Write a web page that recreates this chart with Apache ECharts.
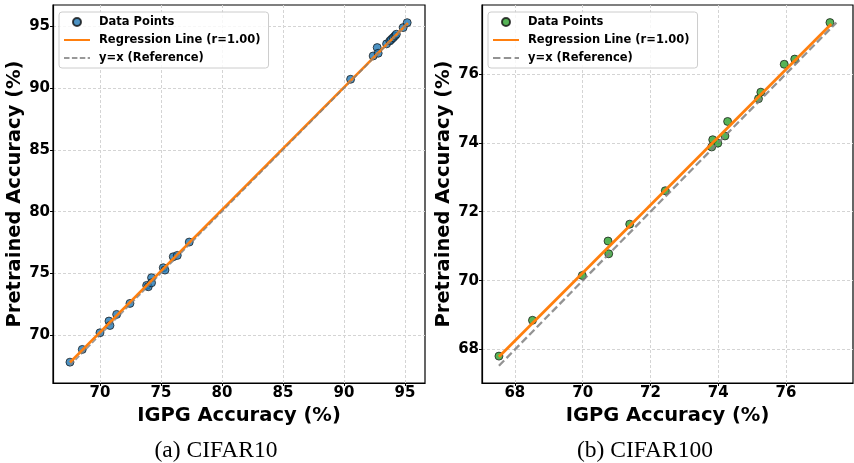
<!DOCTYPE html>
<html><head><meta charset="utf-8">
<script src="https://cdn.jsdelivr.net/npm/echarts@6/dist/echarts.min.js"></script>
<style>html,body{margin:0;padding:0;background:#fff}#c{width:854px;height:463px}</style>
</head><body><div id="c"></div>
<script>
// CIFAR10 (a)
const c10X = [67.54,68.55,70.00,70.74,70.82,71.37,72.46,73.83,73.96,74.23,74.23,75.19,75.33,76.01,76.34,77.32,90.55,92.40,92.73,92.81,93.50,93.77,93.90,94.04,94.18,94.30,94.86,95.19];
const c10Y = [67.81,68.84,70.19,71.14,70.78,71.68,72.57,74.03,73.92,74.65,74.24,75.46,75.27,76.35,76.46,77.54,90.73,92.62,93.30,92.84,93.60,93.84,93.97,94.10,94.24,94.38,94.92,95.32];
const c10RegX = [67.54, 95.25];
const c10RegY = [67.78, 95.28];
const c10RefX = [67.54, 95.3];
const c10Ticks = [70,75,80,85,90,95];
// CIFAR100 (b)
const c100X = [67.53,68.52,69.99,70.75,70.77,71.39,72.44,73.84,73.81,73.99,74.20,74.28,75.19,75.26,75.95,76.26,77.30];
const c100Y = [67.81,68.85,70.15,71.15,70.78,71.64,72.61,74.09,73.88,73.99,74.20,74.62,75.28,75.47,76.28,76.43,77.49];
const c100RegX = [67.53, 77.34];
const c100RegY = [67.79, 77.45];
const c100RefX = [67.53, 77.49];
const c100Ticks = [68,70,72,74,76];

const legendNames = {ptsA:'Data Points',regA:'Regression Line (r=1.00)',refA:'y=x (Reference)',ptsB:'Data Points',regB:'Regression Line (r=1.00)',refB:'y=x (Reference)'};
const zip = (a,b)=>a.map((v,i)=>[v,b[i]]);
const font = 'DejaVu Sans';

function xAxis(idx, min, max, ticks){
  return {gridIndex: idx, type:'value', min, max, name:'IGPG Accuracy (%)', nameLocation:'middle', nameGap:19,
    nameTextStyle:{fontFamily:font,fontWeight:'bold',fontSize:19.5,color:'#000'},
    axisLine:{show:true,onZero:false,lineStyle:{color:'#000',width:1.2}},
    axisTick:{show:true,inside:false,length:3,customValues:ticks,lineStyle:{color:'#000'}},
    axisLabel:{customValues:ticks,margin:3,fontFamily:font,fontWeight:'bold',fontSize:15,color:'#000'},
    splitLine:{show:true,lineStyle:{color:'#d4d4d4',type:[3,2],width:1}}};
}
function yAxis(idx, min, max, ticks){
  return {gridIndex: idx, type:'value', min, max, name:'Pretrained Accuracy (%)', nameLocation:'middle', nameGap:21, nameRotate:90,
    nameTextStyle:{fontFamily:font,fontWeight:'bold',fontSize:19.5,color:'#000'},
    axisLine:{show:true,onZero:false,lineStyle:{color:'#000',width:1.2}},
    axisTick:{show:true,inside:false,length:3,customValues:ticks,lineStyle:{color:'#000'}},
    axisLabel:{customValues:ticks,margin:3,fontFamily:font,fontWeight:'bold',fontSize:15,color:'#000'},
    splitLine:{show:true,lineStyle:{color:'#d4d4d4',type:[3,2],width:1}}};
}
function legend(left, names){
  return {left, top:12, orient:'vertical',
    data:[{name:names[0]},{name:names[1],itemStyle:{opacity:0}},{name:names[2],itemStyle:{opacity:0}}],
    itemWidth:26, itemHeight:8, itemGap:4,
    padding:[3,8,3,4], borderColor:'#cccccc', borderWidth:1, borderRadius:3, backgroundColor:'rgba(255,255,255,0.8)',
    formatter:n=>legendNames[n], selectedMode:false,
    textStyle:{fontFamily:font,fontWeight:'bold',fontSize:11.5,color:'#000',lineHeight:14,padding:[0,0,0,4]}};
}

const chart = echarts.init(document.getElementById('c'), null, {renderer:'canvas'});
chart.setOption({
  animation:false,
  title:[
    {text:'(a) CIFAR10', left:216, top:439, textAlign:'center', padding:0, textStyle:{fontFamily:'Liberation Serif',fontWeight:'normal',fontSize:23.5,color:'#000'}},
    {text:'(b) CIFAR100', left:645, top:439, textAlign:'center', padding:0, textStyle:{fontFamily:'Liberation Serif',fontWeight:'normal',fontSize:23.5,color:'#000'}}
  ],
  grid:[
    {left:53, top:5, width:372, height:378, show:true, borderColor:'#000', borderWidth:1.2, backgroundColor:'transparent'},
    {left:482, top:5, width:371, height:378, show:true, borderColor:'#000', borderWidth:1.2, backgroundColor:'transparent'}
  ],
  xAxis:[xAxis(0,66.15,96.65,c10Ticks), xAxis(1,67.03,77.98,c100Ticks)],
  yAxis:[yAxis(0,66.12,96.75,c10Ticks), yAxis(1,67.03,78.0,c100Ticks)],
  legend:[legend(59,['ptsA','regA','refA']), legend(488,['ptsB','regB','refB'])],
  series:[
    {name:'ptsA', type:'scatter', xAxisIndex:0, yAxisIndex:0, data:zip(c10X,c10Y), symbolSize:8, z:2,
      itemStyle:{color:'#1f77b4',borderColor:'#111',borderWidth:0.9}},
    {name:'regA', type:'line', xAxisIndex:0, yAxisIndex:0, data:zip(c10RegX,c10RegY), showSymbol:false, symbol:'none', z:3,
      lineStyle:{color:'#ff7f0e',width:2.6}, itemStyle:{color:'#ff7f0e'}},
    {name:'refA', type:'line', xAxisIndex:0, yAxisIndex:0, data:zip(c10RefX,c10RefX), showSymbol:false, symbol:'none', z:4,
      lineStyle:{color:'#808080',width:1.5,type:[5.5,2.4],opacity:0.8}, itemStyle:{color:'#808080'}},
    {name:'ptsB', type:'scatter', xAxisIndex:1, yAxisIndex:1, data:zip(c100X,c100Y), symbolSize:8, z:2,
      itemStyle:{color:'#2ca02c',borderColor:'#111',borderWidth:0.9}},
    {name:'regB', type:'line', xAxisIndex:1, yAxisIndex:1, data:zip(c100RegX,c100RegY), showSymbol:false, symbol:'none', z:3,
      lineStyle:{color:'#ff7f0e',width:2.8}, itemStyle:{color:'#ff7f0e'}},
    {name:'refB', type:'line', xAxisIndex:1, yAxisIndex:1, data:zip(c100RefX,c100RefX), showSymbol:false, symbol:'none', z:4,
      lineStyle:{color:'#808080',width:2.3,type:[7.4,3.4],opacity:0.85}, itemStyle:{color:'#808080'}}
  ]
});
</script></body></html>
